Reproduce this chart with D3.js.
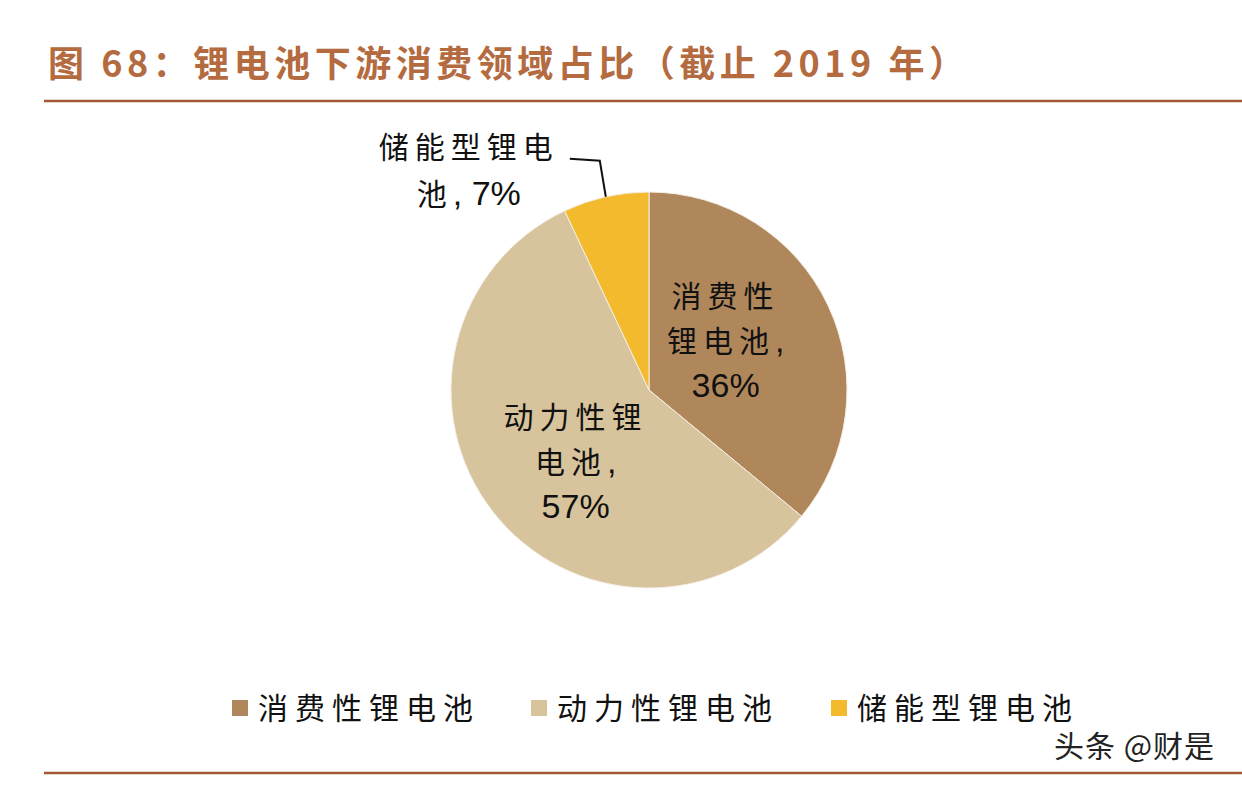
<!DOCTYPE html>
<html>
<head>
<meta charset="utf-8">
<script src="https://cdn.jsdelivr.net/npm/d3@7"></script>
<style>
  body { margin: 0; background: #fff; }
  svg text { font-family: "Noto Sans CJK SC", "Noto Sans", sans-serif; }
  .latin { font-family: "Liberation Sans", Arial, sans-serif; }
</style>
</head>
<body>
<svg id="chart" width="1242" height="786"></svg>
<script>
// data
const categories = ['消费性锂电池', '动力性锂电池', '储能型锂电池'];
const shares = [36, 57, 7];
// each line: [cjk part, latin part]
const labelLines = [
  [['消费性', ''], ['锂电池', ','], ['', '36%']],
  [['动力性锂', ''], ['电池', ','], ['', '57%']],
  [['储能型锂电', ''], ['池', ', 7%']]
];
const colors = ['#B0875B', '#D8C49C', '#F2BA2C'];

const svg = d3.select('#chart');

// title + rules
svg.append('text')
  .attr('x', 48).attr('y', 77)
  .attr('font-size', 36).attr('font-weight', 'bold')
  .attr('fill', '#B36B3F').attr('letter-spacing', 4.5)
  .text('图 68：锂电池下游消费领域占比（截止 2019 年）');

svg.append('line')
  .attr('x1', 44).attr('x2', 1242).attr('y1', 101).attr('y2', 101)
  .attr('stroke', '#A35A33').attr('stroke-width', 2.5);
svg.append('line')
  .attr('x1', 44).attr('x2', 1242).attr('y1', 773).attr('y2', 773)
  .attr('stroke', '#A35A33').attr('stroke-width', 2.5);

// pie
const cx = 649, cy = 390, r = 198;
const pie = d3.pie().sort(null).value(d => d);
const arcs = pie(shares);
const arc = d3.arc().innerRadius(0).outerRadius(r);

const g = svg.append('g').attr('transform', `translate(${cx},${cy})`);
g.selectAll('path')
  .data(arcs)
  .join('path')
  .attr('d', arc)
  .attr('fill', (d, i) => colors[i])
  .attr('stroke', '#f4efe6')
  .attr('stroke-width', 1);

function writeLines(x, y0, gap, lines) {
  const t = g.append('text')
    .attr('text-anchor', 'middle')
    .attr('fill', '#111');
  lines.forEach((ln, k) => {
    let first = true;
    const place = sel => {
      if (first) { sel.attr('x', x).attr('y', y0 + k * gap); first = false; }
      return sel;
    };
    if (ln[0]) {
      place(t.append('tspan'))
        .attr('font-size', 30)
        .attr('letter-spacing', 6)
        .text(ln[0]);
    }
    if (ln[1]) {
      place(t.append('tspan'))
        .attr('class', 'latin')
        .attr('font-size', 34)
        .attr('letter-spacing', 0)
        .text(ln[1]);
    }
  });
}

// labels inside the two big slices, placed from the centroid plus a nudge
const labelArc = d3.arc().innerRadius(r * 0.45).outerRadius(r * 0.45);
const nudge = [[-4, -10], [-3, 18]];
const lineGap = 45;
[0, 1].forEach(i => {
  const c = labelArc.centroid(arcs[i]);
  const lx = c[0] + nudge[i][0], ly = c[1] + nudge[i][1];
  writeLines(lx, ly - lineGap + 10, lineGap, labelLines[i]);
});

// outside label for small slice with leader line
const small = arcs[2];
const mid = (small.startAngle + small.endAngle) / 2;
const edge = [Math.sin(mid) * r, -Math.cos(mid) * r];
const elbow = [edge[0] - 6, edge[1] - 36];
const tail = [elbow[0] - 30, elbow[1] - 2];
g.append('polyline')
  .attr('points', [edge, elbow, tail].map(p => p.join(',')).join(' '))
  .attr('fill', 'none').attr('stroke', '#111').attr('stroke-width', 2);

writeLines(tail[0] - 101, tail[1] - 1, 47, labelLines[2]);

// legend
const legendX = [232, 531, 831];
const legend = svg.append('g');
categories.forEach((c, i) => {
  legend.append('rect')
    .attr('x', legendX[i]).attr('y', 700)
    .attr('width', 16).attr('height', 16)
    .attr('fill', colors[i]);
  legend.append('text')
    .attr('x', legendX[i] + 26).attr('y', 719)
    .attr('font-size', 30).attr('fill', '#111')
    .attr('letter-spacing', 7)
    .text(c);
});

// watermark
svg.append('text')
  .attr('x', 1054).attr('y', 757)
  .attr('font-size', 30).attr('fill', '#222')
  .attr('letter-spacing', 1)
  .text('头条 @财是');
</script>
</body>
</html>
